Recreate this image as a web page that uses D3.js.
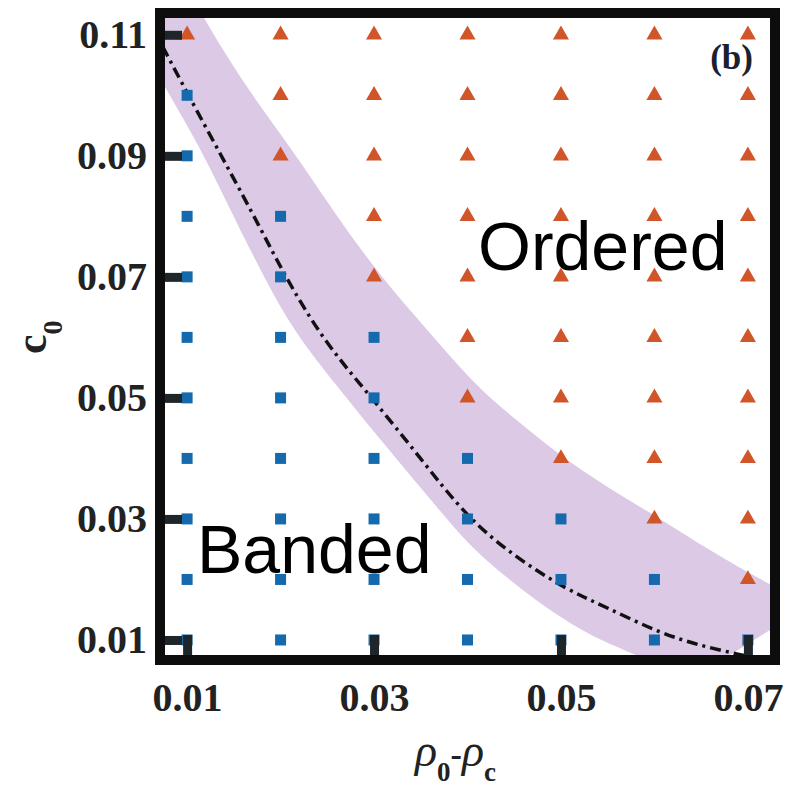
<!DOCTYPE html>
<html>
<head>
<meta charset="utf-8">
<script src="https://cdn.jsdelivr.net/npm/d3@7"></script>
<style>
  body { margin: 0; background: #fff; }
  svg { display: block; }
</style>
</head>
<body>
<svg id="chart" width="789" height="793"></svg>
<script>
'use strict';

// simulation grid
var rhoValues = [0.01, 0.02, 0.03, 0.04, 0.05, 0.06, 0.07];
var c0Values = [0.01, 0.02, 0.03, 0.04, 0.05, 0.06, 0.07, 0.08, 0.09, 0.10, 0.11];
// highest c0 that is still banded, one per rho column
var bandedMaxC0 = [0.10, 0.08, 0.06, 0.04, 0.03, 0.02, 0.01];

var rhoTicks = [0.01, 0.03, 0.05, 0.07];
var c0Ticks = [0.01, 0.03, 0.05, 0.07, 0.09, 0.11];

// dash-dot boundary
var boundaryRho = [0.0074, 0.0100, 0.0143, 0.0178, 0.0203, 0.0245, 0.0295, 0.0350, 0.0399, 0.0450, 0.0506, 0.0549, 0.0603, 0.0650, 0.0697];
var boundaryC0  = [0.1080, 0.1004, 0.0882, 0.0782, 0.0706, 0.0596, 0.0505, 0.0400, 0.0303, 0.0238, 0.0183, 0.0154, 0.0113, 0.0090, 0.0074];

// shaded transition band
var bandUpperRho = [0.0103, 0.0117, 0.0167, 0.0215, 0.0258, 0.0304, 0.0360, 0.0413, 0.0453, 0.0501, 0.0549, 0.0600, 0.0663, 0.0720, 0.0767];
var bandUpperC0  = [0.1174, 0.1128, 0.1004, 0.0905, 0.0805, 0.0706, 0.0607, 0.0513, 0.0463, 0.0402, 0.0353, 0.0306, 0.0244, 0.0194, 0.0158];
var bandLowerRho = [0.0022, 0.0080, 0.0117, 0.0148, 0.0180, 0.0215, 0.0264, 0.0298, 0.0328, 0.0367, 0.0403, 0.0445, 0.0491, 0.0534, 0.0577, 0.0638];
var bandLowerC0  = [0.1158, 0.1004, 0.0905, 0.0805, 0.0706, 0.0607, 0.0513, 0.0447, 0.0392, 0.0320, 0.0254, 0.0199, 0.0145, 0.0105, 0.0078, 0.0034];

var svg = d3.select('#chart');

var plotLeft = 160, plotRight = 775, plotTop = 13, plotBottom = 660;
var x = d3.scaleLinear().domain([0.0071, 0.0729]).range([plotLeft, plotRight]);
var y = d3.scaleLinear().domain([0.00669, 0.1136]).range([plotBottom, plotTop]);

svg.append('defs').append('clipPath').attr('id', 'plotClip')
  .append('rect')
  .attr('x', plotLeft + 5).attr('y', plotTop + 5)
  .attr('width', plotRight - plotLeft - 10).attr('height', plotBottom - plotTop - 10);

var plot = svg.append('g').attr('clip-path', 'url(#plotClip)');

function zip(a, b) {
  return a.map(function (v, i) { return [v, b[i]]; });
}

//band, smoothed through the read-off points
var bandLine = d3.line()
  .x(function (d) { return x(d[0]); })
  .y(function (d) { return y(d[1]); })
  .curve(d3.curveBasis);
var upperPath = bandLine(zip(bandUpperRho, bandUpperC0));
var lowerPath = bandLine(zip(bandLowerRho, bandLowerC0).reverse());
plot.append('path')
  .attr('d', upperPath + 'L' + lowerPath.slice(1) + 'Z')
  .attr('fill', '#dbc9e5');

//boundary
plot.append('path')
  .attr('d', bandLine(zip(boundaryRho, boundaryC0)))
  .attr('fill', 'none')
  .attr('stroke', '#111')
  .attr('stroke-width', 3.5)
  .attr('stroke-dasharray', '11,5,3,5');

// markers
var points = [];
rhoValues.forEach(function (r, i) {
  c0Values.forEach(function (c) {
    points.push({rho: r, c0: c, banded: c <= bandedMaxC0[i] + 1e-9});
  });
});

var square = d3.symbol(d3.symbolSquare, 121);
var triangle = d3.symbol(d3.symbolTriangle, 112);
plot.selectAll('path.marker')
  .data(points).enter()
  .append('path')
  .attr('class', 'marker')
  .attr('transform', function (d) { return 'translate(' + x(d.rho) + ',' + y(d.c0) + ')'; })
  .attr('d', function (d) { return d.banded ? square() : triangle(); })
  .attr('fill', function (d) { return d.banded ? '#1569ad' : '#d0562a'; });

// axes
var xAxis = d3.axisBottom(x).tickValues(rhoTicks).tickSize(-25).tickPadding(23)
  .tickFormat(d3.format('.2f'));
var yAxis = d3.axisLeft(y).tickValues(c0Ticks).tickSize(-22).tickPadding(13)
  .tickFormat(d3.format('.2f'));

var gx = svg.append('g').attr('transform', 'translate(0,' + plotBottom + ')').call(xAxis);
var gy = svg.append('g').attr('transform', 'translate(' + plotLeft + ',0)').call(yAxis);

[gx, gy].forEach(function (g) {
  g.select('.domain').remove();
  g.selectAll('.tick line').attr('stroke', '#1f2629').attr('stroke-width', 9);
  g.selectAll('.tick text')
    .attr('fill', '#222')
    .style('font-family', '"Liberation Serif", "Times New Roman", serif')
    .style('font-weight', 'bold')
    .style('font-size', '40px');
});

// frame
svg.append('rect')
  .attr('x', plotLeft).attr('y', plotTop)
  .attr('width', plotRight - plotLeft).attr('height', plotBottom - plotTop)
  .attr('fill', 'none')
  .attr('stroke', '#0d0d0d')
  .attr('stroke-width', 10);

// labels
var serif = '"Liberation Serif", "Times New Roman", serif';
var sans = '"Liberation Sans", Arial, sans-serif';

svg.append('text')
  .attr('x', 478).attr('y', 270)
  .style('font-family', sans).style('font-size', '68px')
  .text('Ordered');

svg.append('text')
  .attr('x', 197).attr('y', 573)
  .style('font-family', sans).style('font-size', '68px')
  .text('Banded');

svg.append('text')
  .attr('x', 753).attr('y', 69)
  .attr('text-anchor', 'end')
  .attr('fill', '#1a2030')
  .style('font-family', serif).style('font-weight', 'bold').style('font-size', '35px')
  .text('(b)');

// x title
var xt = svg.append('text')
  .attr('x', 415).attr('y', 766)
  .attr('fill', '#222')
  .style('font-family', serif);
xt.append('tspan').style('font-style', 'italic').style('font-size', '46px').text('ρ');
xt.append('tspan').attr('dy', 15).style('font-size', '27px').style('font-weight', 'bold').text('0');
xt.append('tspan').attr('dy', -15).style('font-size', '34px').style('font-weight', 'bold').text('-');
xt.append('tspan').style('font-style', 'italic').style('font-size', '46px').text('ρ');
xt.append('tspan').attr('dy', 15).style('font-size', '27px').style('font-weight', 'bold').text('c');

// y title
var yt = svg.append('text')
  .attr('transform', 'translate(46,354) rotate(-90)')
  .attr('fill', '#222')
  .style('font-family', serif).style('font-weight', 'bold');
yt.append('tspan').style('font-size', '44px').text('c');
yt.append('tspan').attr('dy', 16).style('font-size', '28px').text('0');
</script>
</body>
</html>
